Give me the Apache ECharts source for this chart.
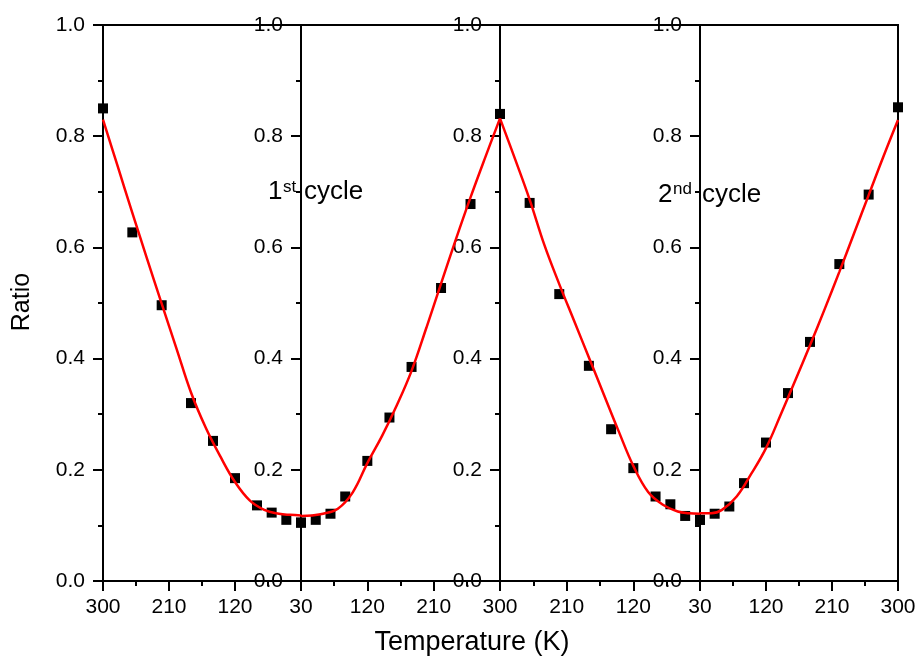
<!DOCTYPE html>
<html>
<head>
<meta charset="utf-8">
<script src="https://cdn.jsdelivr.net/npm/echarts@6/dist/echarts.min.js"></script>
<style>
html, body { margin: 0; padding: 0; background: #fff; }
#chart { width: 919px; height: 658px; }
</style>
</head>
<body>
<div id="chart"></div>
<script>
// ---- Data ----
const xTickValues = [30, 120, 210, 300];
const yTickValues = [0.0, 0.2, 0.4, 0.6, 0.8, 1.0];

// measured temperatures (K)
const pointTemps = [30, 50, 70, 90, 120, 150, 180, 220, 260, 300];
// measured ratios for each sweep (same order as pointTemps)
const cycle1Cooling = [0.105, 0.110, 0.123, 0.136, 0.185, 0.252, 0.320, 0.496, 0.627, 0.850];
const cycle1Heating = [0.105, 0.110, 0.121, 0.152, 0.216, 0.294, 0.385, 0.527, 0.678, 0.840];
const cycle2Cooling = [0.110, 0.117, 0.138, 0.152, 0.203, 0.273, 0.387, 0.516, 0.680, 0.840];
const cycle2Heating = [0.110, 0.121, 0.134, 0.176, 0.249, 0.338, 0.430, 0.570, 0.695, 0.852];

// fitted curves
const fitTemps = [30, 45, 60, 80, 100, 120, 140, 160, 180, 200, 220, 240, 260, 280, 300];
const fitCycle1Cooling = [0.118, 0.119, 0.121, 0.128, 0.145, 0.178, 0.224, 0.276, 0.339, 0.419, 0.499, 0.580, 0.662, 0.746, 0.830];
const fitCycle1Heating = [0.117, 0.118, 0.121, 0.130, 0.159, 0.212, 0.261, 0.316, 0.378, 0.455, 0.535, 0.614, 0.690, 0.762, 0.832];
const fitCycle2Cooling = [0.121, 0.122, 0.125, 0.137, 0.160, 0.207, 0.270, 0.336, 0.402, 0.468, 0.534, 0.604, 0.686, 0.760, 0.832];
const fitCycle2Heating = [0.122, 0.122, 0.128, 0.152, 0.193, 0.239, 0.299, 0.361, 0.424, 0.489, 0.556, 0.625, 0.694, 0.763, 0.829];

const xAxisTitle = 'Temperature (K)';
const yAxisTitle = 'Ratio';

// ---- Layout ----
const FONT = '"Liberation Sans", Arial, Helvetica, sans-serif';
const panels = [
  { left: 103, width: 198, inverse: true,  showMin: true,  showMax: true,  pts: cycle1Cooling, fit: fitCycle1Cooling },
  { left: 301, width: 199, inverse: false, showMin: false, showMax: false, pts: cycle1Heating, fit: fitCycle1Heating },
  { left: 500, width: 200, inverse: true,  showMin: true,  showMax: true,  pts: cycle2Cooling, fit: fitCycle2Cooling },
  { left: 700, width: 198, inverse: false, showMin: false, showMax: true,  pts: cycle2Heating, fit: fitCycle2Heating }
];

const grids = [], xAxes = [], yAxes = [], series = [];
const lineCol = '#000';

panels.forEach((p, i) => {
  grids.push({
    left: p.left, width: p.width, top: 25, height: 556,
    show: true, borderColor: '#000', borderWidth: 2, backgroundColor: 'transparent'
  });
  xAxes.push({
    gridIndex: i, type: 'value',
    min: xTickValues[0], max: xTickValues[xTickValues.length - 1],
    interval: xTickValues[1] - xTickValues[0],
    inverse: p.inverse, position: 'bottom',
    axisLine: { show: true, onZero: false, lineStyle: { color: lineCol, width: 2 } },
    axisTick: { show: true, inside: false, length: 10, lineStyle: { color: lineCol, width: 2 } },
    minorTick: { show: true, splitNumber: 2, length: 5, lineStyle: { color: lineCol, width: 2 } },
    splitLine: { show: false }, minorSplitLine: { show: false },
    axisLabel: {
      show: true, color: '#000', fontSize: 21, fontFamily: FONT, margin: 16,
      showMinLabel: p.showMin, showMaxLabel: p.showMax,
      formatter: v => String(Math.round(v))
    }
  });
  yAxes.push({
    gridIndex: i, type: 'value',
    min: yTickValues[0], max: yTickValues[yTickValues.length - 1],
    interval: yTickValues[1] - yTickValues[0],
    position: 'left',
    axisLine: { show: true, onZero: false, lineStyle: { color: lineCol, width: 2 } },
    axisTick: { show: true, inside: false, length: 10, lineStyle: { color: lineCol, width: 2 } },
    minorTick: { show: true, splitNumber: 2, length: 5, lineStyle: { color: lineCol, width: 2 } },
    splitLine: { show: false }, minorSplitLine: { show: false },
    axisLabel: {
      show: true, color: '#000', fontSize: 21, fontFamily: FONT, margin: 18,
      formatter: v => v.toFixed(1)
    }
  });
  series.push({
    type: 'scatter', xAxisIndex: i, yAxisIndex: i,
    data: pointTemps.map((t, j) => [t, p.pts[j]]),
    symbol: 'rect', symbolSize: 10,
    itemStyle: { color: '#000', opacity: 1 },
    z: 2, clip: true, silent: true
  });
  series.push({
    type: 'line', xAxisIndex: i, yAxisIndex: i,
    data: fitTemps.map((t, j) => [t, p.fit[j]]),
    smooth: 0.4, showSymbol: false, symbol: 'none',
    lineStyle: { color: '#ff0000', width: 2.5 },
    z: 3, clip: true, silent: true
  });
});

const txt = (x, y, text, size, align, extra) => Object.assign({
  type: 'text', x: x, y: y, z: 10, silent: true,
  style: {
    text: text, font: size + 'px ' + FONT, fill: '#000',
    textAlign: align || 'left', textVerticalAlign: 'middle', verticalAlign: 'middle'
  }
}, extra || {});

const option = {
  animation: false,
  backgroundColor: '#fff',
  grid: grids,
  xAxis: xAxes,
  yAxis: yAxes,
  series: series,
  graphic: [
    txt(22, 302, yAxisTitle, 25, 'center', { rotation: Math.PI / 2 }),
    txt(472, 643, xAxisTitle, 27, 'center'),
    txt(268, 192, '1', 26),
    txt(283, 187, 'st', 17),
    txt(304, 192, 'cycle', 26),
    txt(658, 195, '2', 26),
    txt(673, 189, 'nd', 17),
    txt(702, 195, 'cycle', 26)
  ]
};

const chart = echarts.init(document.getElementById('chart'), null, { renderer: 'canvas' });
chart.setOption(option);
</script>
</body>
</html>
